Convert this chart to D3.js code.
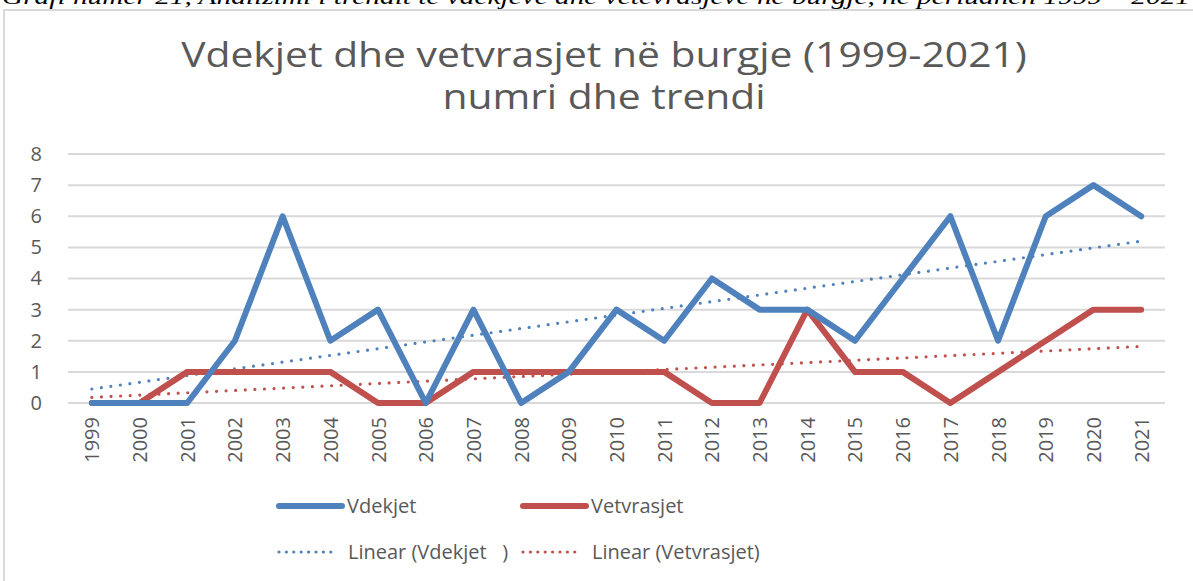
<!DOCTYPE html>
<html>
<head>
<meta charset="utf-8">
<script src="https://cdn.jsdelivr.net/npm/d3@7"></script>
<style>
  html, body { margin: 0; padding: 0; background: #fff; overflow: hidden; }
  text { font-family: "Open Sans", "Noto Sans", sans-serif; }
</style>
</head>
<body>
<div id="chart"></div>
<script>
const width = 1193,
      height = 581;

// data
const years = d3.range(1999, 2022).map(String);
const vdekjet    = [0, 0, 0, 2, 6, 2, 3, 0, 3, 0, 1, 3, 2, 4, 3, 3, 2, 4, 6, 2, 6, 7, 6];
const vetvrasjet = [0, 0, 1, 1, 1, 1, 0, 0, 1, 1, 1, 1, 1, 0, 0, 3, 1, 1, 0, 1, 2, 3, 3];
// linear trend values at 1999 and 2021, as drawn
const trendVdekjet    = [0.45, 5.2];
const trendVetvrasjet = [0.18, 1.82];
const yTicks = [0, 1, 2, 3, 4, 5, 6, 7, 8];

const blue = '#4f81bd';
const red = '#c0504d';
const gridColor = '#d9d9d9';
const textColor = '#595959';

const svg = d3.select('#chart').append('svg')
    .attr('width', width)
    .attr('height', height);

// caption of the document, cut off at the top
svg.append('text')
    .attr('x', 2)
    .attr('y', 4)
    .attr('textLength', 1188)
    .attr('lengthAdjust', 'spacingAndGlyphs')
    .style('font-family', '"Liberation Serif", serif')
    .style('font-style', 'italic')
    .style('font-size', '21px')
    .attr('fill', '#000')
    .text('Grafi numër 21, Analizimi i trendit të vdekjeve dhe vetëvrasjeve në burgje, në periudhën 1999 – 2021');

// chart frame
svg.append('path')
    .attr('d', `M4,${height + 5} V10 H${width + 5}`)
    .attr('fill', 'none')
    .attr('stroke', gridColor)
    .attr('stroke-width', 2);

// title (the picture is a bit stretched sideways)
const title = svg.append('g')
    .attr('transform', 'translate(604,0) scale(1.2,1)')
  .append('text')
    .attr('text-anchor', 'middle')
    .attr('fill', textColor)
    .style('font-size', '34px');
title.append('tspan').attr('x', 0).attr('y', 67).text('Vdekjet dhe vetvrasjet në burgje (1999-2021)');
title.append('tspan').attr('x', 0).attr('y', 109).text('numri dhe trendi');

const x = d3.scalePoint()
    .domain(years)
    .range([68, 1165])
    .padding(0.5);

const y = d3.scaleLinear()
    .domain([0, 8])
    .range([403, 154]);

// gridlines
svg.append('g')
  .selectAll('line')
  .data(yTicks)
  .join('line')
    .attr('x1', 68)
    .attr('x2', 1165)
    .attr('y1', d => y(d))
    .attr('y2', d => y(d))
    .attr('stroke', gridColor)
    .attr('stroke-width', 2);

// y axis labels
const yAxis = svg.append('g')
    .attr('transform', 'translate(51,0)')
    .call(d3.axisLeft(y).tickValues(yTicks).tickSize(0).tickPadding(9));
yAxis.select('.domain').remove();
yAxis.selectAll('text')
    .attr('fill', textColor)
    .style('font-size', '20px')
    .style('font-family', '"Open Sans", sans-serif');

// x axis labels, rotated
const xAxis = svg.append('g')
    .attr('transform', 'translate(0,403)')
    .call(d3.axisBottom(x).tickSize(0));
xAxis.select('.domain').remove();
xAxis.selectAll('text')
    .attr('fill', textColor)
    .style('font-size', '20px')
    .style('font-family', '"Open Sans", sans-serif')
    .attr('text-anchor', 'end')
    .attr('dy', '0.35em')
    .attr('transform', 'translate(0,14) rotate(-90)')
    .attr('y', 0)
    .attr('x', 0);

// trend lines
const trends = [
  {values: trendVdekjet, color: blue},
  {values: trendVetvrasjet, color: red}
];
svg.append('g')
  .selectAll('line')
  .data(trends)
  .join('line')
    .attr('x1', x(years[0]))
    .attr('x2', x(years[years.length - 1]))
    .attr('y1', d => y(d.values[0]))
    .attr('y2', d => y(d.values[1]))
    .attr('stroke', d => d.color)
    .attr('stroke-width', 3.2)
    .attr('stroke-linecap', 'round')
    .attr('stroke-dasharray', '0 9.6');

// series lines
const line = d3.line()
    .x((d, i) => x(years[i]))
    .y(d => y(d));

svg.append('path')
    .datum(vetvrasjet)
    .attr('d', line)
    .attr('fill', 'none')
    .attr('stroke', red)
    .attr('stroke-width', 6)
    .attr('stroke-linejoin', 'round')
    .attr('stroke-linecap', 'round');

svg.append('path')
    .datum(vdekjet)
    .attr('d', line)
    .attr('fill', 'none')
    .attr('stroke', blue)
    .attr('stroke-width', 6)
    .attr('stroke-linejoin', 'round')
    .attr('stroke-linecap', 'round');

// legend
const legendItems = [
  {label: 'Vdekjet', color: blue, dotted: false, x: 278, y: 506},
  {label: 'Vetvrasjet', color: red, dotted: false, x: 522, y: 506},
  {label: 'Linear (Vdekjet   )', color: blue, dotted: true, x: 278, y: 552},
  {label: 'Linear (Vetvrasjet)', color: red, dotted: true, x: 522, y: 552}
];

const legend = svg.append('g')
  .selectAll('g')
  .data(legendItems)
  .join('g')
    .attr('transform', d => `translate(${d.x},${d.y})`);

legend.append('line')
    .attr('x1', 1)
    .attr('x2', d => d.dotted ? 60 : 64)
    .attr('stroke', d => d.color)
    .attr('stroke-width', d => d.dotted ? 3.2 : 6)
    .attr('stroke-linecap', 'round')
    .attr('stroke-dasharray', d => d.dotted ? '0 7.4' : null);

legend.append('text')
    .attr('x', d => d.dotted ? 70 : 69)
    .attr('y', 7)
    .attr('fill', textColor)
    .style('font-size', '20px')
    .style('white-space', 'pre')
    .attr('xml:space', 'preserve')
    .text(d => d.label);
</script>
</body>
</html>
